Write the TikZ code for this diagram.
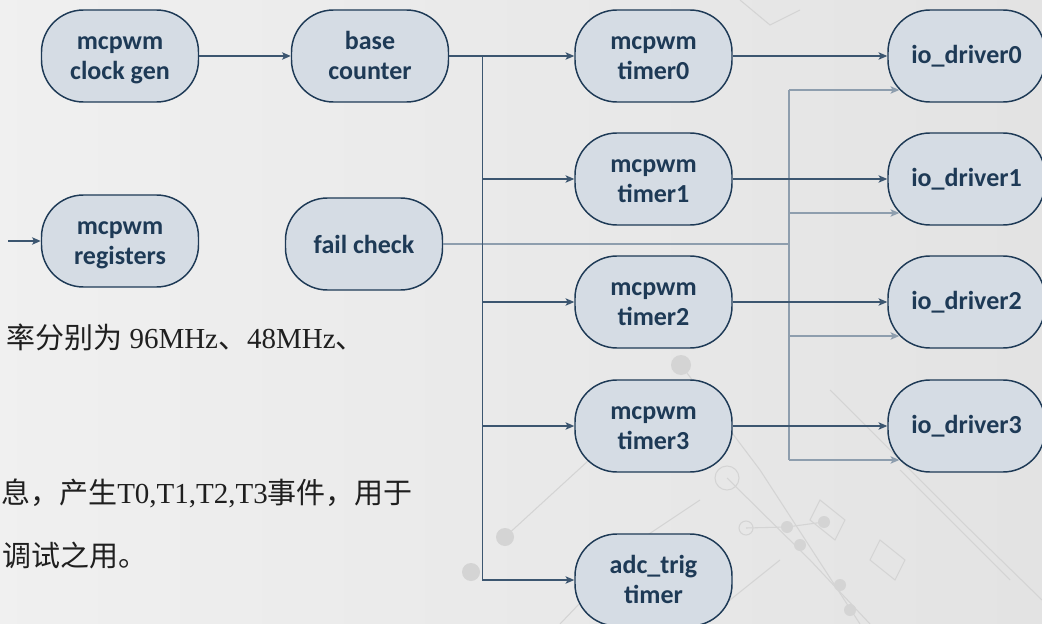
\documentclass[tikz,border=0pt]{standalone}
\usepackage{fontspec}
\setmainfont{Liberation Serif}
\newfontfamily\boxfont{Carlito}
\newfontfamily\cjk{Noto Sans CJK SC}
\usetikzlibrary{arrows.meta,calc}

\definecolor{navy}{HTML}{1E3A56}
\definecolor{boxfill}{HTML}{D5DCE4}
\definecolor{wire}{HTML}{3C5670}
\definecolor{softwire}{HTML}{8E9EAE}
\definecolor{deco}{HTML}{D4D4D4}

% struts that give every two-line label the same baselines
\newcommand{\upline}{\rule{0pt}{20pt}}
\newcommand{\downline}{\rule[-6.75pt]{0pt}{6.75pt}}

\begin{document}
\begin{tikzpicture}[x=0.75pt,y=-0.75pt,
  block/.style={draw=navy, line width=1.1pt, fill=boxfill, rounded corners=31.5pt,
    minimum width=117.75pt, minimum height=69pt, inner sep=0pt, align=center,
    font=\boxfont\bfseries\fontsize{19.5}{22.5}\selectfont, text=navy},
  wireline/.style={draw=wire, line width=1.1pt},
  link/.style={wireline, -{Stealth[length=6.5pt,width=5.5pt,inset=1.5pt]}},
  softline/.style={draw=softwire, line width=1.1pt},
  softlink/.style={softline, -{Stealth[length=6.5pt,width=5.5pt,inset=1.5pt]}},
  note/.style={anchor=base west, inner sep=0pt, font=\fontsize{21.75}{26}\selectfont, text=black!88}
]
% page frame and soft backdrop
\path[use as bounding box] (0,0) rectangle (1042,624);
\clip (0,0) rectangle (1042,624);
\fill[left color=black!6, middle color=black!1, right color=black!11] (0,0) rectangle (1042,624);

% faint circuit ornaments
\begin{scope}[draw=deco, line width=0.8pt]
  \draw (681,365) -- (760,470) -- (860,624);
  \draw (505,537) -- (600,450) -- (700,380);
  \draw (727,478) -- (810,560) -- (870,624);
  \draw (746,528) -- (787,527) -- (824,522);
  \draw (830,390) -- (960,520) -- (1042,600);
  \draw (560,624) -- (640,540) -- (700,500);
  \draw (700,624) -- (780,560);
  \draw (900,470) -- (1010,580);
  \draw (727,478) circle (12);
  \draw (746,528) circle (7);
  \draw (820,500) -- (845,520) -- (835,540) -- (810,520) -- cycle;
  \draw (880,540) -- (905,560) -- (895,580) -- (870,560) -- cycle;
  \draw (740,0) -- (770,25) -- (800,10);
\end{scope}
\begin{scope}[fill=deco]
  \fill (681,365) circle (10);
  \fill (505,537) circle (9);
  \fill (471,572) circle (9);
  \fill (787,527) circle (6);
  \fill (824,522) circle (6);
  \fill (800,545) circle (6);
  \fill (840,585) circle (6);
  \fill (850,610) circle (6);
\end{scope}

% blocks
\node[block] (clk)  at (120,56)  {\upline mcpwm\\clock gen\downline};
\node[block] (base) at (370,56)  {\upline base\\counter\downline};
\node[block] (reg)  at (120,241) {\upline mcpwm\\registers\downline};
\node[block] (fail) at (364,244) {fail check};
\node[block] (t0)   at (653.5,56)  {\upline mcpwm\\timer0\downline};
\node[block] (t1)   at (653.5,179) {\upline mcpwm\\timer1\downline};
\node[block] (t2)   at (653.5,302) {\upline mcpwm\\timer2\downline};
\node[block] (t3)   at (653.5,426) {\upline mcpwm\\timer3\downline};
\node[block] (adc)  at (653.5,580) {\upline adc\_trig\\timer\downline};
\node[block] (io0)  at (966.5,56)  {io\_driver0};
\node[block] (io1)  at (966.5,179) {io\_driver1};
\node[block] (io2)  at (966.5,302) {io\_driver2};
\node[block] (io3)  at (966.5,426) {io\_driver3};

% fail check fan-out to the drivers
\coordinate (fj) at (789,244);
\path ($(io0.west)+(12,34)$) coordinate (g0)
      ($(io1.west)+(12,34)$) coordinate (g1)
      ($(io2.west)+(12,34)$) coordinate (g2)
      ($(io3.west)+(12,34)$) coordinate (g3);
\draw[softline] (fail.east) -- (fj);
\draw[softline] (g0 -| fj) -- (g3 -| fj);
\foreach \g in {g0,g1,g2,g3}
  \draw[softlink] (\g -| fj) -- (\g);

% clock and counter chain
\coordinate (regin) at (8,241);
\draw[link] (regin) -- (reg);
\draw[link] (clk) -- (base);
\draw[link] (base) -- (t0);
\coordinate (bus0) at ($(base.east)+(33,0)$);
\draw[wireline] (bus0) -- (bus0 |- adc);
\foreach \t in {t1,t2,t3,adc}
  \draw[link] (bus0 |- \t) -- (\t);

% timers to io drivers
\draw[link] (t0) -- (io0);
\draw[link] (t1) -- (io1);
\draw[link] (t2) -- (io2);
\draw[link] (t3) -- (io3);

% description text
\node[note] (n1) at (6,348) {{\cjk 率分别为} 96MHz{\cjk 、}48MHz{\cjk 、}};
\node[note] (n2) at (1,503) {{\cjk 息，产生}T0,T1,T2,T3{\cjk 事件，用于}};
\node[note] (n3) at (2,566) {{\cjk 调试之用。}};
\end{tikzpicture}
\end{document}
